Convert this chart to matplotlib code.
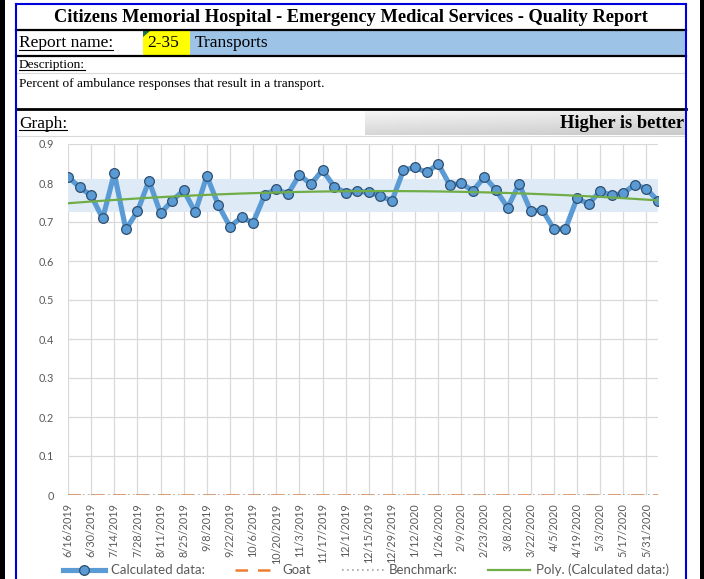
import numpy as np
import matplotlib
matplotlib.use("Agg")
import matplotlib.pyplot as plt
from matplotlib.lines import Line2D
from matplotlib.patches import Rectangle, Polygon

# weekly values, 6/16/2019 .. 6/7/2020
calculated = [0.816, 0.789, 0.768, 0.709, 0.825, 0.681, 0.727, 0.806, 0.722, 0.755,
              0.781, 0.725, 0.818, 0.743, 0.688, 0.712, 0.698, 0.769, 0.785, 0.771,
              0.821, 0.797, 0.833, 0.791, 0.775, 0.779, 0.776, 0.767, 0.754, 0.833,
              0.840, 0.827, 0.849, 0.795, 0.799, 0.780, 0.816, 0.782, 0.737, 0.797,
              0.728, 0.731, 0.682, 0.682, 0.761, 0.746, 0.779, 0.768, 0.774, 0.796,
              0.785, 0.754]
goal = [0] * 52
benchmark = [0] * 52
band = [0.725, 0.811]

tick_labels = ['6/16/2019', '6/30/2019', '7/14/2019', '7/28/2019', '8/11/2019',
               '8/25/2019', '9/8/2019', '9/22/2019', '10/6/2019', '10/20/2019',
               '11/3/2019', '11/17/2019', '12/1/2019', '12/15/2019', '12/29/2019',
               '1/12/2020', '1/26/2020', '2/9/2020', '2/23/2020', '3/8/2020',
               '3/22/2020', '4/5/2020', '4/19/2020', '5/3/2020', '5/17/2020',
               '5/31/2020']

W, H = 704, 579
fig = plt.figure(figsize=(W / 100, H / 100), dpi=100)
fig.patch.set_facecolor('white')


def fx(x):
    return x / W


def fy(y):
    return 1 - y / H


def rect(x0, y0, x1, y1, color):
    fig.add_artist(Rectangle((fx(x0), fy(y1)), fx(x1) - fx(x0), fy(y0) - fy(y1),
                             transform=fig.transFigure, facecolor=color, lw=0))


def line(x0, y0, x1, y1, color, lw):
    fig.add_artist(Line2D([fx(x0), fx(x1)], [fy(y0), fy(y1)],
                          transform=fig.transFigure, color=color, lw=lw))


serif = 'Liberation Serif'
blue_border = '#0000dd'

# side strips and frame
rect(0, 0, 5, H, 'black')
rect(700, 0, W, H, 'black')
rect(143, 31, 190, 55, '#ffff00')
rect(190, 31, 686, 55, '#9dc3e6')
fig.add_artist(Polygon([[fx(143), fy(31)], [fx(150), fy(31)], [fx(143), fy(37)]],
                       closed=True, transform=fig.transFigure, color='#1e7145', lw=0))

line(16, 29.5, 686, 29.5, 'black', 1.6)
line(16, 56, 686, 56, 'black', 1.6)
line(16, 73, 686, 73, '#d9d9d9', 0.8)
line(16, 109, 686, 109, 'black', 2.0)
line(16, 135.5, 686, 135.5, '#d9d9d9', 0.8)

# grey gradient behind "Higher is better"
gy, gx = np.mgrid[0:1:40j, 0:1:200j]
grad = 0.96 - 0.12 * gy - 0.05 * gx
ax_g = fig.add_axes([fx(365), fy(135), fx(686) - fx(365), (135 - 111) / H])
ax_g.imshow(grad, cmap='gray', vmin=0, vmax=1, aspect='auto')
ax_g.axis('off')

line(16, 4, 686, 4, blue_border, 1.5)
line(16, 4, 16, H, blue_border, 1.5)
line(686, 4, 686, H, blue_border, 1.5)

fig.text(fx(351), fy(17), 'Citizens Memorial Hospital - Emergency Medical Services - Quality Report',
         family=serif, weight='bold', fontsize=13.2, ha='center', va='center')
fig.text(fx(147), fy(43), '2-35', family=serif, fontsize=12.5, ha='left', va='center')
fig.text(fx(195), fy(43), 'Transports', family=serif, fontsize=12.5, ha='left', va='center')
fig.text(fx(684), fy(123), 'Higher is better', family=serif, weight='bold', fontsize=13.3,
         ha='right', va='center')
fig.text(fx(19), fy(84), 'Percent of ambulance responses that result in a transport.',
         family=serif, fontsize=9.6, ha='left', va='center')

underlined = [
    fig.text(fx(19), fy(43), 'Report name:', family=serif, fontsize=12.5, ha='left', va='center'),
    fig.text(fx(19), fy(65), 'Description:', family=serif, fontsize=9.6, ha='left', va='center'),
    fig.text(fx(19), fy(124), 'Graph:', family=serif, fontsize=12.5, ha='left', va='center'),
]
renderer = fig.canvas.get_renderer()
for t in underlined:
    bb = t.get_window_extent(renderer)
    fig.add_artist(Line2D([bb.x0 / W, bb.x1 / W], [(bb.y0 + 1.5) / H] * 2,
                          transform=fig.transFigure, color='black', lw=0.8))

# chart
ax = fig.add_axes([fx(68), fy(495), fx(658) - fx(68), (495 - 144) / H])
x = np.arange(len(calculated))
ax.axhspan(band[0], band[1], color='#deebf7', lw=0, zorder=1)
coef = np.polyfit(x, calculated, 2)
ax.plot(x, goal, color='#ed7d31', lw=1.8, ls=(0, (5, 4)), zorder=3, label='Goat')
ax.plot(x, benchmark, color='#a5a5a5', lw=1.2, ls=(0, (1, 2)), zorder=3, label='Benchmark:')
ax.plot(x, calculated, color='#5b9bd5', lw=3.7, marker='o', ms=7,
        mfc='#5b9bd5', mec='#2f4f6f', mew=0.9, zorder=4, label='Calculated data:')
ax.plot(x, np.polyval(coef, x), color='#70ad47', lw=1.6, zorder=5,
        label='Poly. (Calculated data:)')

ax.set_xlim(0, len(calculated) - 1)
ax.set_ylim(0, 0.9)
ax.set_yticks(np.arange(0, 0.91, 0.1))
ax.set_yticklabels(['0', '0.1', '0.2', '0.3', '0.4', '0.5', '0.6', '0.7', '0.8', '0.9'])
ax.set_xticks(np.arange(0, 52, 2))
ax.set_xticklabels(tick_labels, rotation=90)
ax.grid(True, color='#d9d9d9', lw=0.9, zorder=0)
ax.set_axisbelow(True)
for s in ax.spines.values():
    s.set_visible(False)
ax.tick_params(axis='both', length=0, colors='#595959', labelsize=7.8)
ax.tick_params(axis='y', pad=10)
ax.tick_params(axis='x', pad=6)
for lab in ax.get_xticklabels() + ax.get_yticklabels():
    lab.set_family('Lato')

h, l = ax.get_legend_handles_labels()
order = [2, 0, 1, 3]
fig.legend([h[i] for i in order], [l[i] for i in order], loc='center',
           bbox_to_anchor=(fx(366), fy(570)), ncol=4, frameon=False,
           prop={'family': 'Lato', 'size': 9.5}, handlelength=3.2,
           columnspacing=2.3, handletextpad=0.4, labelcolor='#595959')

fig.savefig('out.png', dpi=100)
plt.close(fig)
